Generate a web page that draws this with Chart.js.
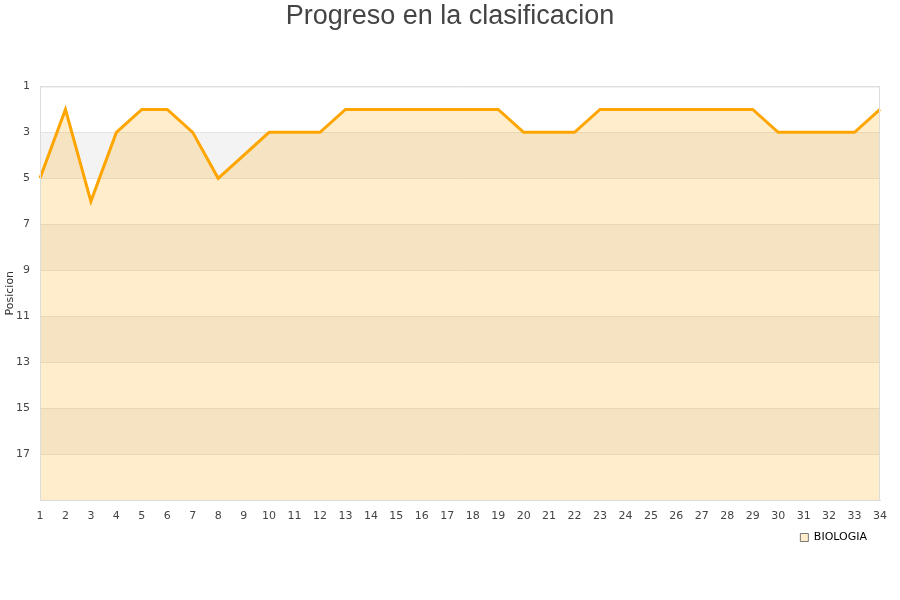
<!DOCTYPE html>
<html>
<head>
<meta charset="utf-8">
<script src="https://cdn.jsdelivr.net/npm/chart.js@4.4.1/dist/chart.umd.min.js"></script>
<style>
  html, body { margin: 0; padding: 0; background: #fff; }
  #wrap { width: 900px; height: 600px; }
</style>
</head>
<body>
<div id="wrap"><canvas id="chart" width="900" height="600"></canvas></div>
<script>
// datos
const jornadas = ['1','2','3','4','5','6','7','8','9','10','11','12','13','14','15','16','17','18','19','20','21','22','23','24','25','26','27','28','29','30','31','32','33','34'];
const posicionBiologia = [5, 2, 6, 3, 2, 2, 3, 5, 4, 3, 3, 3, 2, 2, 2, 2, 2, 2, 2, 3, 3, 3, 2, 2, 2, 2, 2, 2, 2, 3, 3, 3, 3, 2];
const posMin = 1;
const posMax = 19;

// bandas grises alternas + borde del area
const bandsPlugin = {
    id: 'bands',
    beforeDraw(chart) {
        const { ctx, chartArea: a, scales: { y } } = chart;
        ctx.save();
        ctx.fillStyle = '#f3f3f3';
        for (let v = 3; v < posMax; v += 4) {
            const top = y.getPixelForValue(v);
            const bot = y.getPixelForValue(Math.min(v + 2, posMax));
            ctx.fillRect(a.left, top, a.right - a.left, bot - top);
        }
        ctx.restore();
    },
    afterDraw(chart) {
        const { ctx, chartArea: a } = chart;
        ctx.save();
        ctx.strokeStyle = '#dcdcdc';
        ctx.lineWidth = 1;
        ctx.strokeRect(a.left + 0.5, a.top + 0.5, a.right - a.left - 1, a.bottom - a.top);
        ctx.restore();
    }
};

new Chart(document.getElementById('chart').getContext('2d'), {
    type: 'line',
    data: {
        labels: jornadas,
        datasets: [{
            label: 'BIOLOGIA',
            data: posicionBiologia,
            borderColor: '#FFA500',
            backgroundColor: 'rgba(255, 165, 0, 0.2)',
            borderWidth: 3,
            pointRadius: 0,
            tension: 0,
            fill: 'start'
        }]
    },
    options: {
        responsive: false,
        animation: false,
        layout: { padding: { top: 0, right: 10, bottom: 47, left: 10 } },
        plugins: {
            title: {
                display: true,
                text: 'Progreso en la clasificacion',
                color: '#444',
                font: { family: 'Liberation Sans', size: 27, weight: 'normal' },
                padding: { top: 0, bottom: 54 }
            },
            legend: {
                display: true,
                position: 'bottom',
                align: 'end',
                fullSize: false,
                labels: {
                    boxWidth: 8,
                    boxHeight: 8,
                    padding: 13,
                    color: '#222',
                    font: { family: 'DejaVu Sans', size: 11 },
                    generateLabels: () => [{
                        text: 'BIOLOGIA',
                        fillStyle: '#FFEDCC',
                        strokeStyle: '#777',
                        lineWidth: 1,
                        datasetIndex: 0
                    }]
                }
            },
            tooltip: { enabled: false }
        },
        scales: {
            x: {
                offset: false,
                grid: { display: false },
                border: { color: '#dcdcdc' },
                ticks: {
                    color: '#444',
                    font: { family: 'DejaVu Sans', size: 11 },
                    maxRotation: 0,
                    autoSkip: false,
                    padding: 2
                },
                afterFit: s => { s.height = 19; }
            },
            y: {
                reverse: true,
                min: posMin,
                max: posMax,
                grid: { color: '#e3e3e3', drawTicks: false },
                border: { color: '#dcdcdc' },
                ticks: {
                    stepSize: 2,
                    color: '#444',
                    font: { family: 'DejaVu Sans', size: 11 },
                    padding: 10,
                    callback: v => (v === posMax ? '' : v)
                },
                title: {
                    display: true,
                    text: 'Posicion',
                    color: '#333',
                    font: { family: 'DejaVu Sans', size: 11 },
                    padding: { top: -6, bottom: 0 }
                },
                afterFit: s => { s.width = 30; }
            },
            // eje vacio a la derecha, solo para dejar margen
            yRight: {
                position: 'right',
                display: true,
                grid: { display: false },
                border: { display: false },
                ticks: { display: false },
                afterFit: s => { s.width = 10; }
            }
        }
    },
    plugins: [bandsPlugin]
});
</script>
</body>
</html>
